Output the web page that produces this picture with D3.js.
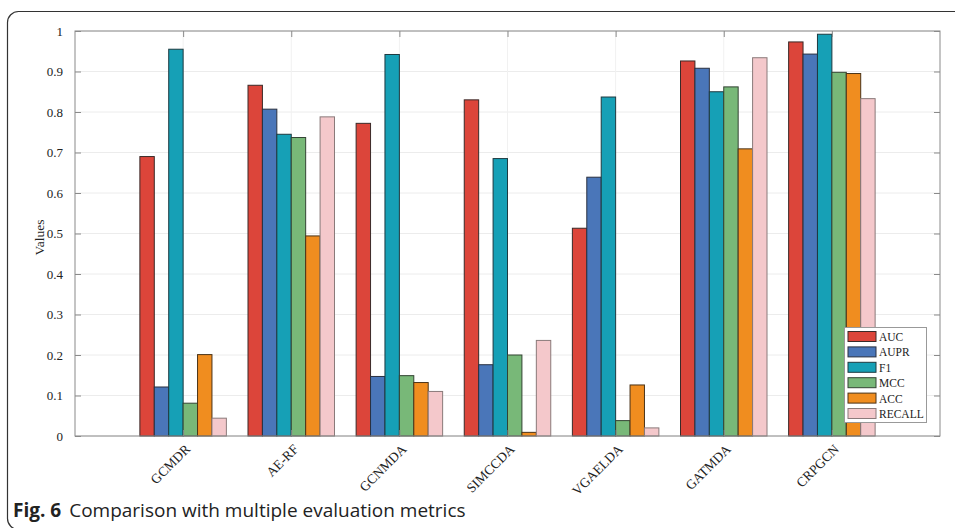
<!DOCTYPE html>
<html>
<head>
<meta charset="utf-8">
<script src="https://cdn.jsdelivr.net/npm/d3@7"></script>
<style>
  html, body { margin: 0; padding: 0; background: #fff; }
  svg { display: block; }
</style>
</head>
<body>
<svg id="chart" width="955" height="528"></svg>
<script>
const categories = ["GCMDR", "AE-RF", "GCNMDA", "SIMCCDA", "VGAELDA", "GATMDA", "CRPGCN"];
const metrics = ["AUC", "AUPR", "F1", "MCC", "ACC", "RECALL"];
const AUC    = [0.690, 0.866, 0.772, 0.830, 0.513, 0.926, 0.973];
const AUPR   = [0.121, 0.807, 0.147, 0.176, 0.639, 0.908, 0.943];
const F1     = [0.955, 0.745, 0.942, 0.685, 0.837, 0.850, 0.992];
const MCC    = [0.081, 0.737, 0.149, 0.200, 0.038, 0.862, 0.898];
const ACC    = [0.201, 0.494, 0.132, 0.009, 0.126, 0.709, 0.895];
const RECALL = [0.044, 0.788, 0.110, 0.236, 0.020, 0.934, 0.833];
const yTicks = [0, 0.1, 0.2, 0.3, 0.4, 0.5, 0.6, 0.7, 0.8, 0.9, 1];
const yTickLabels = ["0", "0.1", "0.2", "0.3", "0.4", "0.5", "0.6", "0.7", "0.8", "0.9", "1"];
const colors = ["#dc453a", "#4a76b9", "#16a0b6", "#78b878", "#f08d1f", "#f4c8cb"];
const strokes = ["#3a2a28", "#2a3040", "#1e3a40", "#334433", "#4a3318", "#8a7a7a"];

const seriesValues = [AUC, AUPR, F1, MCC, ACC, RECALL];

const svg = d3.select("#chart");
const serif = "'Liberation Serif', 'Times New Roman', serif";

// outer frame
svg.append("rect")
  .attr("x", 7.5).attr("y", 11.5)
  .attr("width", 1000).attr("height", 518)
  .attr("rx", 11).attr("ry", 11)
  .attr("fill", "none").attr("stroke", "#333").attr("stroke-width", 1.2);

const L = 75, R = 940, T = 31, B = 436;

const x = d3.scaleLinear().domain([0, categories.length + 1]).range([L, R]);
const y = d3.scaleLinear().domain([0, 1]).range([B, T]);
const step = x(1) - x(0);
const groupW = step * 0.8;
const inner = d3.scaleBand().domain(metrics).range([-groupW / 2, groupW / 2]).padding(0);

// grid
const g = svg.append("g");
g.selectAll("line.hg").data(yTicks).join("line")
  .attr("x1", L).attr("x2", R)
  .attr("y1", d => y(d)).attr("y2", d => y(d))
  .attr("stroke", "#ececec").attr("stroke-width", 1);
g.selectAll("line.vg").data(categories).join("line")
  .attr("x1", (d, i) => x(i + 1)).attr("x2", (d, i) => x(i + 1))
  .attr("y1", T).attr("y2", B)
  .attr("stroke", "#f1f1f1").attr("stroke-width", 1);

// bars
const bars = svg.append("g");
categories.forEach((c, i) => {
  metrics.forEach((m, j) => {
    const v = seriesValues[j][i];
    bars.append("rect")
      .attr("x", x(i + 1) + inner(m))
      .attr("y", y(v))
      .attr("width", inner.bandwidth())
      .attr("height", y(0) - y(v))
      .attr("fill", colors[j])
      .attr("stroke", strokes[j])
      .attr("stroke-width", 1);
  });
});

// axes box
const axisColor = "#8a8a8a";
const ax = svg.append("g");
ax.append("rect").attr("x", L).attr("y", T).attr("width", R - L).attr("height", B - T)
  .attr("fill", "none").attr("stroke", axisColor).attr("stroke-width", 1);

// y axis (left) with inward ticks
const yAxisL = d3.axisLeft(y).tickValues(yTicks).tickSize(-6).tickPadding(12)
  .tickFormat((d, i) => yTickLabels[i]);
const gy = svg.append("g").attr("transform", `translate(${L},0)`).call(yAxisL);
gy.select(".domain").remove();
gy.selectAll(".tick line").attr("stroke", axisColor);
gy.selectAll(".tick text").attr("font-family", serif).attr("font-size", 13).attr("fill", "#222");

// right ticks
const yAxisR = d3.axisRight(y).tickValues(yTicks).tickSize(-6).tickFormat("");
const gyr = svg.append("g").attr("transform", `translate(${R},0)`).call(yAxisR);
gyr.select(".domain").remove();
gyr.selectAll(".tick line").attr("stroke", axisColor);

// x axis bottom / top ticks
const xAxisB = d3.axisBottom(x).tickValues(d3.range(1, categories.length + 1)).tickSize(-6).tickFormat("");
const gxb = svg.append("g").attr("transform", `translate(0,${B})`).call(xAxisB);
gxb.select(".domain").remove();
gxb.selectAll(".tick line").attr("stroke", axisColor);
const xAxisT = d3.axisTop(x).tickValues(d3.range(1, categories.length + 1)).tickSize(-6).tickFormat("");
const gxt = svg.append("g").attr("transform", `translate(0,${T})`).call(xAxisT);
gxt.select(".domain").remove();
gxt.selectAll(".tick line").attr("stroke", axisColor);

// x labels rotated
svg.append("g").selectAll("text").data(categories).join("text")
  .attr("transform", (d, i) => `translate(${x(i + 1) + 8},${B + 14}) rotate(-45)`)
  .attr("text-anchor", "end")
  .attr("font-family", serif).attr("font-size", 13.5).attr("fill", "#222")
  .text(d => d);

// y label
svg.append("text")
  .attr("transform", `translate(44,${(T + B) / 2 + 4}) rotate(-90)`)
  .attr("text-anchor", "middle")
  .attr("font-family", serif).attr("font-size", 13.5).attr("fill", "#222")
  .text("Values");

// legend
const lg = svg.append("g");
lg.append("rect").attr("x", 844.5).attr("y", 327.5).attr("width", 82).attr("height", 95)
  .attr("fill", "#fff").attr("stroke", "#999").attr("stroke-width", 1);
metrics.forEach((m, j) => {
  const cy = 336.5 + j * 15.4;
  lg.append("rect").attr("x", 848).attr("y", cy - 5).attr("width", 28).attr("height", 10)
    .attr("fill", colors[j]).attr("stroke", strokes[j]).attr("stroke-width", 1);
  lg.append("text").attr("x", 879).attr("y", cy + 4.5)
    .attr("font-family", serif).attr("font-size", 11.5).attr("fill", "#222").text(m);
});

// caption
const cap = svg.append("text").attr("x", 13).attr("y", 517)
  .attr("font-family", "'Open Sans', 'Noto Sans', sans-serif").attr("font-size", 19).attr("fill", "#222");
cap.append("tspan").attr("font-weight", "bold").text("Fig. 6");
cap.append("tspan").attr("dx", 8).text("Comparison with multiple evaluation metrics");
</script>
</body>
</html>
